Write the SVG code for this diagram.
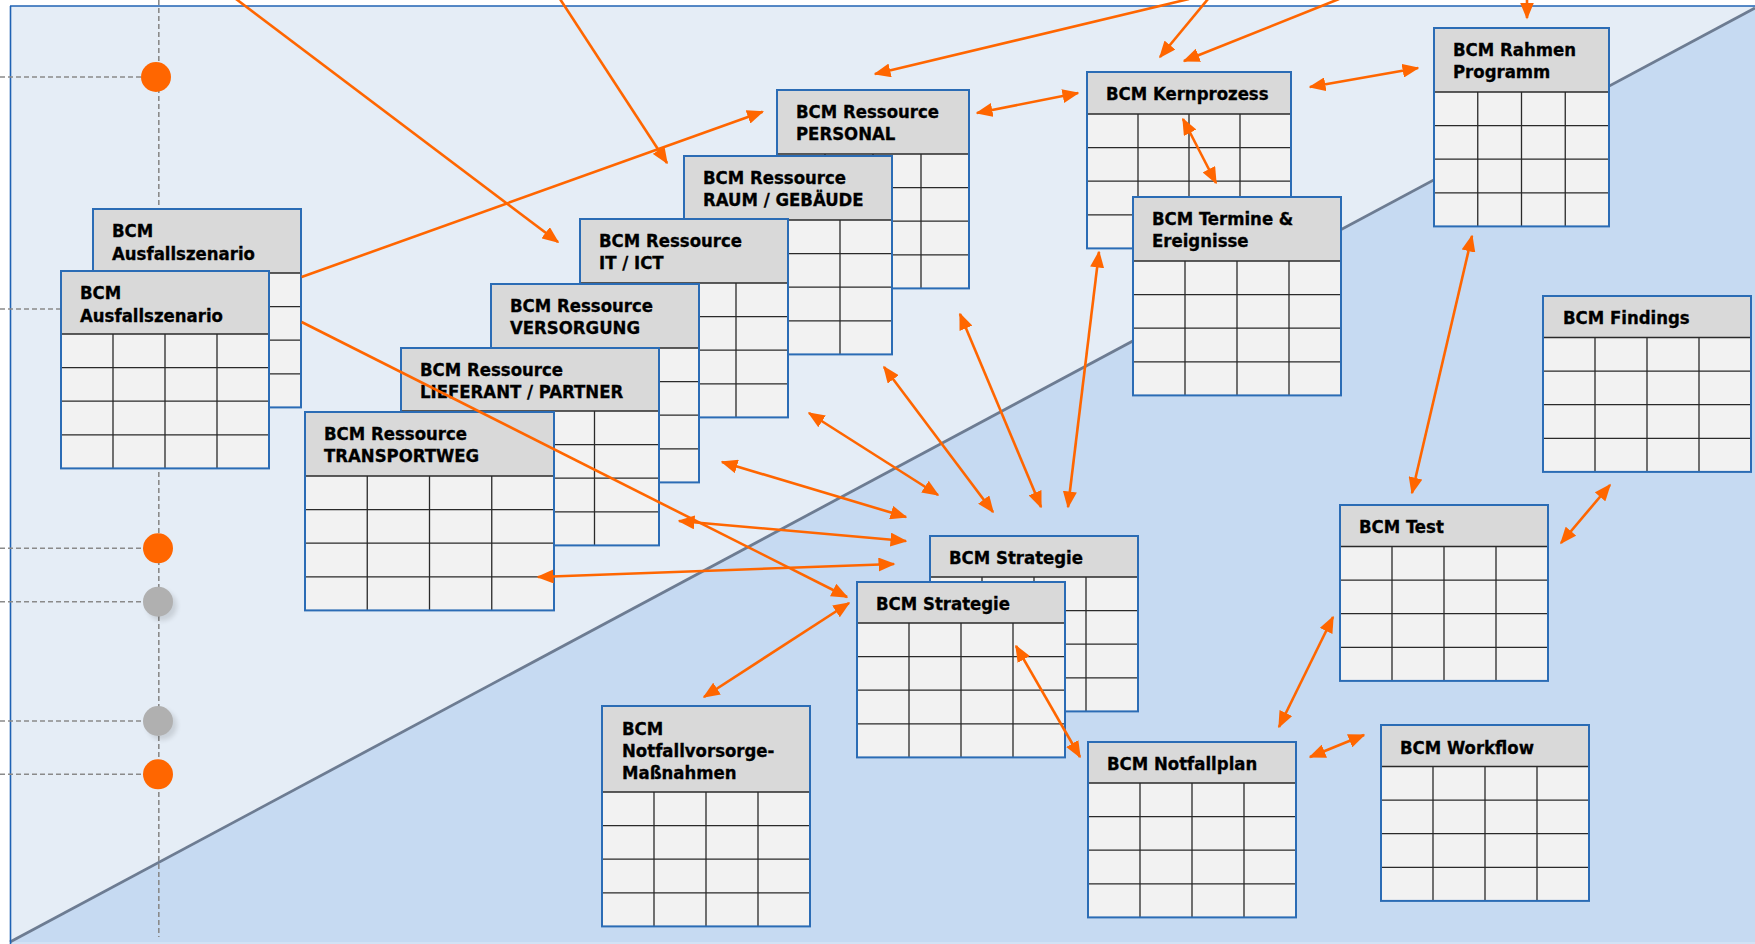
<svg xmlns="http://www.w3.org/2000/svg" width="1755" height="944" viewBox="0 0 1755 944">
<style>
.hdr{fill:#D9D9D9}
.body{fill:#F2F2F2}
.grid{stroke:#2A2A2A;stroke-width:1.3;fill:none}
.frame{fill:none;stroke:#2B6CB5;stroke-width:2}
.lbl{font-family:"DejaVu Sans Condensed","DejaVu Sans",sans-serif;font-stretch:condensed;font-weight:bold;font-size:18.4px;fill:#000;stroke:#000;stroke-width:0.3}
.conn{stroke:#FF6600;stroke-width:2.6;fill:none}
.one{marker-end:url(#ah)}
.two{marker-start:url(#ah);marker-end:url(#ah)}
.dash{stroke:#8A8A8A;stroke-width:1.6;stroke-dasharray:5 3;fill:none}
</style>
<defs>
<marker id="ah" markerUnits="userSpaceOnUse" markerWidth="17" markerHeight="14" refX="15.5" refY="7" orient="auto-start-reverse">
<path d="M0,0 L17,7 L0,14 Z" fill="#FF6600"/>
</marker>
<filter id="sh" x="-50%" y="-50%" width="200%" height="200%"><feGaussianBlur stdDeviation="2.5"/></filter>
<filter id="soft" x="-5%" y="-5%" width="110%" height="110%"><feGaussianBlur stdDeviation="0.7"/></filter>
</defs>
<g id="background">
<rect x="0" y="0" width="1755" height="944" fill="#FFFFFF"/>
<rect x="10" y="6" width="1745" height="938" fill="#E5EDF6"/>
<polygon points="10,942 1755,8 1755,944 10,944" fill="#C6DAF2"/>
<rect x="10" y="942" width="1745" height="2" fill="#D2E2F5"/>
<line x1="10" y1="942" x2="1755" y2="8" stroke="#6D7C92" stroke-width="2.8" filter="url(#soft)"/>
<line x1="10.5" y1="6" x2="10.5" y2="944" stroke="#1F62B3" stroke-width="1.6"/>
<line x1="10" y1="6" x2="1755" y2="6" stroke="#1F62B3" stroke-width="1.6"/>
</g>
<g id="timeline">
<path class="dash" d="M158.8,0V937"/>
<path class="dash" d="M0,77H142M0,309H61M0,548.3H142M0,601.7H142M0,721H142M0,774.3H142"/>
<ellipse cx="162" cy="606" rx="15" ry="15" fill="#000" opacity="0.12" filter="url(#sh)"/>
<ellipse cx="162" cy="725" rx="15" ry="15" fill="#000" opacity="0.12" filter="url(#sh)"/>
<circle cx="156" cy="77" r="15" fill="#FF6600"/>
<circle cx="158" cy="548.3" r="15" fill="#FF6600"/>
<circle cx="158" cy="601.7" r="15" fill="#B0B0B0"/>
<circle cx="158" cy="721" r="15" fill="#B0B0B0"/>
<circle cx="158" cy="774.3" r="15" fill="#FF6600"/>
</g>
<g id="n-ausfall-back" transform="translate(93,209)">
<rect class="hdr" width="208" height="64"/><rect class="body" y="64" width="208" height="134.4"/>
<path class="grid" d="M0,64H208M0,97.6H208M0,131.2H208M0,164.8H208M52,64V198.4M104,64V198.4M156,64V198.4"/>
<rect class="frame" width="208" height="198.4"/>
<text class="lbl" x="19" y="28">BCM</text><text class="lbl" x="19" y="50.5">Ausfallszenario</text>
</g>
<g id="n-ausfall-front" transform="translate(61,271)">
<rect class="hdr" width="208" height="63"/><rect class="body" y="63" width="208" height="134.4"/>
<path class="grid" d="M0,63H208M0,96.6H208M0,130.2H208M0,163.8H208M52,63V197.4M104,63V197.4M156,63V197.4"/>
<rect class="frame" width="208" height="197.4"/>
<text class="lbl" x="19" y="28">BCM</text><text class="lbl" x="19" y="50.5">Ausfallszenario</text>
</g>
<g id="n-personal" transform="translate(777,90)">
<rect class="hdr" width="192" height="64"/><rect class="body" y="64" width="192" height="134.4"/>
<path class="grid" d="M0,64H192M0,97.6H192M0,131.2H192M0,164.8H192M48,64V198.4M96,64V198.4M144,64V198.4"/>
<rect class="frame" width="192" height="198.4"/>
<text class="lbl" x="19" y="28">BCM Ressource</text><text class="lbl" x="19" y="50">PERSONAL</text>
</g>
<g id="n-raum" transform="translate(684,156)">
<rect class="hdr" width="208" height="64"/><rect class="body" y="64" width="208" height="134.4"/>
<path class="grid" d="M0,64H208M0,97.6H208M0,131.2H208M0,164.8H208M52,64V198.4M104,64V198.4M156,64V198.4"/>
<rect class="frame" width="208" height="198.4"/>
<text class="lbl" x="19" y="27.5">BCM Ressource</text><text class="lbl" x="19" y="50">RAUM / GEBÄUDE</text>
</g>
<g id="n-it" transform="translate(580,219)">
<rect class="hdr" width="208" height="64"/><rect class="body" y="64" width="208" height="134.4"/>
<path class="grid" d="M0,64H208M0,97.6H208M0,131.2H208M0,164.8H208M52,64V198.4M104,64V198.4M156,64V198.4"/>
<rect class="frame" width="208" height="198.4"/>
<text class="lbl" x="19" y="27.5">BCM Ressource</text><text class="lbl" x="19" y="50">IT / ICT</text>
</g>
<g id="n-versorgung" transform="translate(491,284)">
<rect class="hdr" width="208" height="64"/><rect class="body" y="64" width="208" height="134.4"/>
<path class="grid" d="M0,64H208M0,97.6H208M0,131.2H208M0,164.8H208M52,64V198.4M104,64V198.4M156,64V198.4"/>
<rect class="frame" width="208" height="198.4"/>
<text class="lbl" x="19" y="27.5">BCM Ressource</text><text class="lbl" x="19" y="50">VERSORGUNG</text>
</g>
<g id="n-lieferant" transform="translate(401,348)">
<rect class="hdr" width="258" height="63"/><rect class="body" y="63" width="258" height="134.4"/>
<path class="grid" d="M0,63H258M0,96.6H258M0,130.2H258M0,163.8H258M64.5,63V197.4M129,63V197.4M193.5,63V197.4"/>
<rect class="frame" width="258" height="197.4"/>
<text class="lbl" x="19" y="27.5">BCM Ressource</text><text class="lbl" x="19" y="50">LIEFERANT / PARTNER</text>
</g>
<g id="n-transportweg" transform="translate(305,412)">
<rect class="hdr" width="249" height="64"/><rect class="body" y="64" width="249" height="134.4"/>
<path class="grid" d="M0,64H249M0,97.6H249M0,131.2H249M0,164.8H249M62.25,64V198.4M124.5,64V198.4M186.75,64V198.4"/>
<rect class="frame" width="249" height="198.4"/>
<text class="lbl" x="19" y="27.5">BCM Ressource</text><text class="lbl" x="19" y="50">TRANSPORTWEG</text>
</g>
<g id="n-kernprozess" transform="translate(1087,72)">
<rect class="hdr" width="204" height="42"/><rect class="body" y="42" width="204" height="134.4"/>
<path class="grid" d="M0,42H204M0,75.6H204M0,109.2H204M0,142.8H204M51,42V176.4M102,42V176.4M153,42V176.4"/>
<rect class="frame" width="204" height="176.4"/>
<text class="lbl" x="19" y="28">BCM Kernprozess</text>
</g>
<g id="n-termine" transform="translate(1133,197)">
<rect class="hdr" width="208" height="64"/><rect class="body" y="64" width="208" height="134.4"/>
<path class="grid" d="M0,64H208M0,97.6H208M0,131.2H208M0,164.8H208M52,64V198.4M104,64V198.4M156,64V198.4"/>
<rect class="frame" width="208" height="198.4"/>
<text class="lbl" x="19" y="28">BCM Termine &amp;</text><text class="lbl" x="19" y="50">Ereignisse</text>
</g>
<g id="n-rahmen" transform="translate(1434,28)">
<rect class="hdr" width="175" height="64"/><rect class="body" y="64" width="175" height="134.4"/>
<path class="grid" d="M0,64H175M0,97.6H175M0,131.2H175M0,164.8H175M43.75,64V198.4M87.5,64V198.4M131.25,64V198.4"/>
<rect class="frame" width="175" height="198.4"/>
<text class="lbl" x="19" y="27.5">BCM Rahmen</text><text class="lbl" x="19" y="50">Programm</text>
</g>
<g id="n-findings" transform="translate(1543,296)">
<rect class="hdr" width="208" height="41.5"/><rect class="body" y="41.5" width="208" height="134.4"/>
<path class="grid" d="M0,41.5H208M0,75.1H208M0,108.7H208M0,142.3H208M52,41.5V175.9M104,41.5V175.9M156,41.5V175.9"/>
<rect class="frame" width="208" height="175.9"/>
<text class="lbl" x="20" y="27.5">BCM Findings</text>
</g>
<g id="n-test" transform="translate(1340,505)">
<rect class="hdr" width="208" height="41.5"/><rect class="body" y="41.5" width="208" height="134.4"/>
<path class="grid" d="M0,41.5H208M0,75.1H208M0,108.7H208M0,142.3H208M52,41.5V175.9M104,41.5V175.9M156,41.5V175.9"/>
<rect class="frame" width="208" height="175.9"/>
<text class="lbl" x="19" y="28">BCM Test</text>
</g>
<g id="n-workflow" transform="translate(1381,725)">
<rect class="hdr" width="208" height="41.5"/><rect class="body" y="41.5" width="208" height="134.4"/>
<path class="grid" d="M0,41.5H208M0,75.1H208M0,108.7H208M0,142.3H208M52,41.5V175.9M104,41.5V175.9M156,41.5V175.9"/>
<rect class="frame" width="208" height="175.9"/>
<text class="lbl" x="19" y="29">BCM Workflow</text>
</g>
<g id="n-notfallplan" transform="translate(1088,742)">
<rect class="hdr" width="208" height="41"/><rect class="body" y="41" width="208" height="134.4"/>
<path class="grid" d="M0,41H208M0,74.6H208M0,108.2H208M0,141.8H208M52,41V175.4M104,41V175.4M156,41V175.4"/>
<rect class="frame" width="208" height="175.4"/>
<text class="lbl" x="19" y="28">BCM Notfallplan</text>
</g>
<g id="n-strategie-back" transform="translate(930,536)">
<rect class="hdr" width="208" height="41"/><rect class="body" y="41" width="208" height="134.4"/>
<path class="grid" d="M0,41H208M0,74.6H208M0,108.2H208M0,141.8H208M52,41V175.4M104,41V175.4M156,41V175.4"/>
<rect class="frame" width="208" height="175.4"/>
<text class="lbl" x="19" y="28">BCM Strategie</text>
</g>
<g id="n-strategie-front" transform="translate(857,582)">
<rect class="hdr" width="208" height="41"/><rect class="body" y="41" width="208" height="134.4"/>
<path class="grid" d="M0,41H208M0,74.6H208M0,108.2H208M0,141.8H208M52,41V175.4M104,41V175.4M156,41V175.4"/>
<rect class="frame" width="208" height="175.4"/>
<text class="lbl" x="19" y="28">BCM Strategie</text>
</g>
<g id="n-notfallvorsorge" transform="translate(602,706)">
<rect class="hdr" width="208" height="86"/><rect class="body" y="86" width="208" height="134.4"/>
<path class="grid" d="M0,86H208M0,119.6H208M0,153.2H208M0,186.8H208M52,86V220.4M104,86V220.4M156,86V220.4"/>
<rect class="frame" width="208" height="220.4"/>
<text class="lbl" x="20" y="29">BCM</text><text class="lbl" x="20" y="51">Notfallvorsorge-</text><text class="lbl" x="20" y="72.5">Maßnahmen</text>
</g>
<g id="connectors">
<path class="conn one" d="M236,-1L558,242"/>
<path class="conn one" d="M560,-1L667,163"/>
<path class="conn one" d="M301.6,277L762.6,111.7"/>
<path class="conn one" d="M301.6,322L847,597"/>
<path class="conn one" d="M1189,-1L875,74"/>
<path class="conn one" d="M1208,-1L1160,57"/>
<path class="conn one" d="M1339,-1L1184,61"/>
<path class="conn one" d="M1527,-3L1527,18"/>
<path class="conn two" d="M977,113L1078,93"/>
<path class="conn two" d="M1310,87L1418,68"/>
<path class="conn two" d="M1183,119L1216,183"/>
<path class="conn two" d="M1472,236L1412,493"/>
<path class="conn two" d="M1610,485L1561,543"/>
<path class="conn two" d="M1333,617L1279,727"/>
<path class="conn two" d="M1310,757L1364,735"/>
<path class="conn two" d="M1016,646L1080,757"/>
<path class="conn two" d="M849,603L704,697"/>
<path class="conn two" d="M1099,252L1068,507"/>
<path class="conn two" d="M960,314L1041,507"/>
<path class="conn two" d="M884,367L993,512"/>
<path class="conn two" d="M809,413L938,495"/>
<path class="conn two" d="M722,462L906,517"/>
<path class="conn two" d="M679,521L906,541"/>
<path class="conn two" d="M538,577L894,564"/>
</g>
</svg>
